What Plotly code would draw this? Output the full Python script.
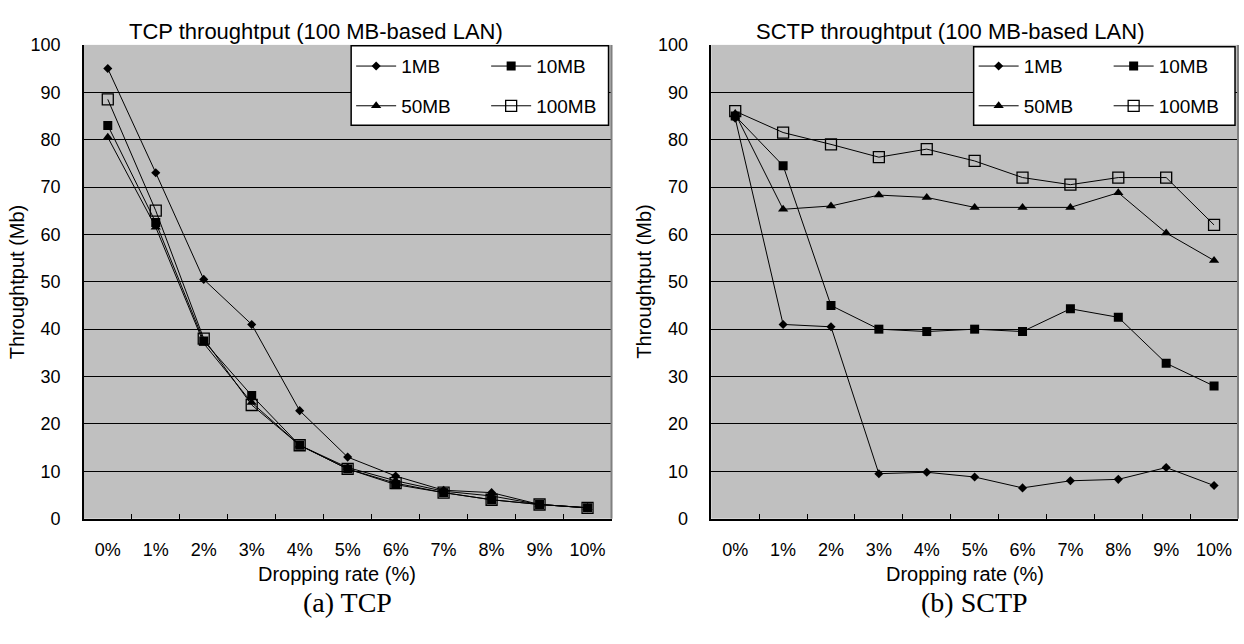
import plotly.graph_objects as go

W, H = 1244, 644

categories = ["0%", "1%", "2%", "3%", "4%", "5%", "6%", "7%", "8%", "9%", "10%"]
series_names = ["1MB", "10MB", "50MB", "100MB"]

tcp_1mb = [95, 73, 50.5, 41, 22.8, 13, 9, 6, 5.5, 3, 2.3]
tcp_10mb = [83, 62.5, 37.5, 26, 15.5, 10.5, 7.2, 5.5, 4, 3, 2.3]
tcp_50mb = [80.5, 61.5, 37, 24.5, 15.5, 10.8, 8, 5.8, 4.8, 3, 2.3]
tcp_100mb = [88.5, 65, 38, 24, 15.5, 10.5, 7.5, 5.5, 4, 3, 2.3]

sctp_1mb = [84.5, 41, 40.5, 9.5, 9.8, 8.8, 6.5, 8, 8.3, 10.8, 7]
sctp_10mb = [85, 74.5, 45, 40, 39.5, 40, 39.5, 44.3, 42.5, 32.8, 28]
sctp_50mb = [85.5, 65.3, 66, 68.3, 67.8, 65.7, 65.7, 65.7, 68.8, 60.3, 54.5]
sctp_100mb = [86, 81.5, 79, 76.3, 78, 75.5, 72, 70.5, 72, 72, 62]

titles = ["TCP throughtput (100 MB-based LAN)", "SCTP throughtput (100 MB-based LAN)"]
captions = ["(a) TCP", "(b) SCTP"]
x_title = "Dropping rate (%)"
y_title = "Throughtput (Mb)"


def px(x):
    return x / W


def py(y):
    return 1 - y / H


FONT = "Liberation Sans, Arial, sans-serif"
marker_styles = [
    dict(symbol="diamond", size=7, color="black"),
    dict(symbol="square", size=9, color="black"),
    dict(symbol="triangle-up", size=9, color="black"),
    dict(symbol="square-open", size=11, color="black", line=dict(color="black", width=1.3)),
]

fig = go.Figure()

panels = [
    dict(xa="x", ya="y", data=[tcp_1mb, tcp_10mb, tcp_50mb, tcp_100mb], legends=["legend", "legend2"]),
    dict(xa="x2", ya="y2", data=[sctp_1mb, sctp_10mb, sctp_50mb, sctp_100mb], legends=["legend3", "legend4"]),
]

for p in panels:
    for i, (name, vals) in enumerate(zip(series_names, p["data"])):
        fig.add_trace(go.Scatter(
            x=categories, y=vals, name=name, mode="lines+markers",
            line=dict(color="black", width=1),
            marker=marker_styles[i],
            xaxis=p["xa"], yaxis=p["ya"],
            legend=p["legends"][i // 2],
        ))

left_box = (84, 613, 36, 525)
right_box = (713, 1241, 36, 525)

axis_common = dict(
    showgrid=False, zeroline=False, showline=True, linecolor="black", linewidth=1.5,
)


def xaxis_cfg(box):
    return dict(
        type="category", domain=[px(box[0]), px(box[1])],
        tickson="boundaries", ticks="inside", ticklen=5, tickcolor="black", tickwidth=1.2,
        tickfont=dict(family=FONT, size=18, color="black"),
        ticklabelstandoff=14, range=[-0.5, 10.5], fixedrange=True,
        **axis_common,
    )


def yaxis_cfg(box, anchor):
    return dict(
        domain=[py(box[3]), py(box[2])], range=[0, 100], dtick=10,
        showgrid=True, gridcolor="black", gridwidth=1.3,
        zeroline=False, showline=True, linecolor="black", linewidth=1.5,
        ticks="", tickfont=dict(family=FONT, size=18, color="black"),
        ticklabelstandoff=18, anchor=anchor, fixedrange=True,
    )


shapes = []
annotations = []
for box, title, cap in [(left_box, titles[0], captions[0]), (right_box, titles[1], captions[1])]:
    shapes.append(dict(type="line", xref="paper", yref="paper",
                       x0=px(box[1]), x1=px(box[1]), y0=py(box[3]), y1=py(box[2]),
                       line=dict(color="#808080", width=2), layer="above"))
    annotations.append(dict(text=title, xref="paper", yref="paper", x=px(box[0] + 43),
                            y=py(22), xanchor="left", yanchor="middle", showarrow=False,
                            font=dict(family=FONT, size=22, color="black")))
    annotations.append(dict(text=x_title, xref="paper", yref="paper", x=px(box[0] + 254),
                            y=py(582), xanchor="center", yanchor="middle", showarrow=False,
                            font=dict(family=FONT, size=20, color="black")))
    annotations.append(dict(text=y_title, xref="paper", yref="paper", x=px(box[0] - 67),
                            y=py(280), xanchor="center", yanchor="middle", showarrow=False,
                            textangle=-90, font=dict(family=FONT, size=20, color="black")))
    annotations.append(dict(text=cap, xref="paper", yref="paper", x=px((box[0] + box[1]) / 2),
                            y=py(612), xanchor="center", yanchor="middle", showarrow=False,
                            font=dict(family="Liberation Serif, Times New Roman, serif", size=28, color="black")))

for (x0, x1, y0, y1) in [(352, 610, 37, 119), (976, 1238, 38, 119)]:
    shapes.append(dict(type="rect", xref="paper", yref="paper",
                       x0=px(x0), x1=px(x1), y0=py(y1), y1=py(y0),
                       fillcolor="white", line=dict(color="black", width=1.5), layer="above"))

legend_common = dict(
    orientation="h", bgcolor="rgba(0,0,0,0)", borderwidth=0,
    font=dict(family=FONT, size=19, color="black"),
    xanchor="left", yanchor="middle", entrywidth=80, itemwidth=40,
    traceorder="normal",
)

fig.update_layout(
    width=W, height=H,
    margin=dict(l=0, r=0, t=0, b=0),
    paper_bgcolor="white", plot_bgcolor="#C0C0C0",
    showlegend=True,
    xaxis=dict(anchor="y", **xaxis_cfg(left_box)),
    yaxis=yaxis_cfg(left_box, "x"),
    xaxis2=dict(anchor="y2", **xaxis_cfg(right_box)),
    yaxis2=yaxis_cfg(right_box, "x2"),
    legend=dict(x=px(352), y=py(58), **legend_common),
    legend2=dict(x=px(352), y=py(99), **legend_common),
    legend3=dict(x=px(976), y=py(58), **legend_common),
    legend4=dict(x=px(976), y=py(99), **legend_common),
    shapes=shapes,
    annotations=annotations,
)

fig.write_html(
    "out.html",
    config={"displayModeBar": False},
    post_script="document.body.style.margin='0';document.body.style.overflow='hidden';",
)
